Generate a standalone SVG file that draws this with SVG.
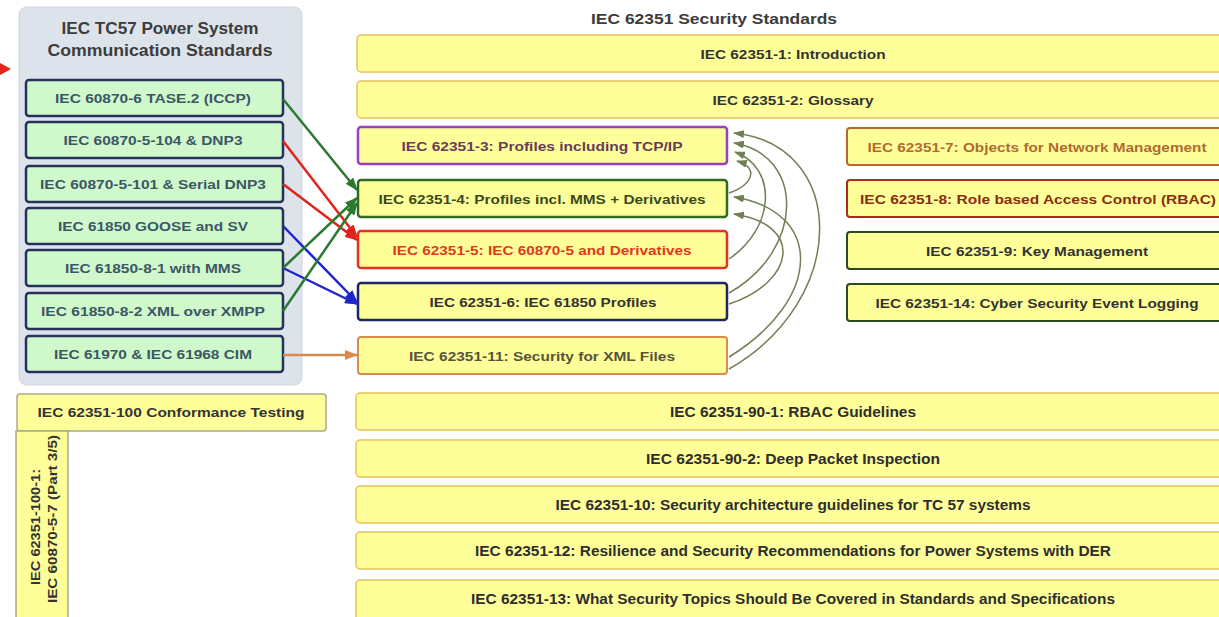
<svg xmlns="http://www.w3.org/2000/svg" width="1219" height="617" viewBox="0 0 1219 617">
  <style>
    text { font-family: "Liberation Sans", Arial, sans-serif; font-weight: bold; }
    .ttl { font-size: 16px; fill: #3c3c3c; text-anchor: middle; }
    .lb { fill: #cff8cb; stroke: #26325c; stroke-width: 2.5; }
    .lt { font-size: 13px; fill: #3d5666; text-anchor: middle; }
    .yb { fill: #ffff99; stroke: #e6c25a; stroke-width: 1.5; }
    .yt { font-size: 13px; fill: #333333; text-anchor: middle; }
    .bt { font-size: 14px; fill: #2e2e2e; text-anchor: middle; }
    .conn { fill: none; stroke-width: 2.5; }
    .curve { fill: none; stroke: #717f55; stroke-width: 1.5; }
  </style>
  <defs>
    <marker id="ah-green" markerUnits="userSpaceOnUse" markerWidth="13" markerHeight="10" refX="12" refY="5" orient="auto"><path d="M0,0 L13,5 L0,10 z" fill="#2a7a2e"/></marker>
    <marker id="ah-red" markerUnits="userSpaceOnUse" markerWidth="13" markerHeight="10" refX="12" refY="5" orient="auto"><path d="M0,0 L13,5 L0,10 z" fill="#e3231b"/></marker>
    <marker id="ah-blue" markerUnits="userSpaceOnUse" markerWidth="13" markerHeight="10" refX="12" refY="5" orient="auto"><path d="M0,0 L13,5 L0,10 z" fill="#1f25cc"/></marker>
    <marker id="ah-orange" markerUnits="userSpaceOnUse" markerWidth="13" markerHeight="10" refX="12" refY="5" orient="auto"><path d="M0,0 L13,5 L0,10 z" fill="#d98b4c"/></marker>
    <marker id="ah-olive" markerUnits="userSpaceOnUse" markerWidth="11" markerHeight="8" refX="10" refY="4" orient="auto"><path d="M0,0 L11,4 L0,8 z" fill="#717f55"/></marker>
  </defs>

  <rect width="1219" height="617" fill="#ffffff"/>

  <!-- pointer at the left margin -->
  <polygon points="0,63 11,69 0,75" fill="#e3231b"/>

  <!-- TC57 communication standards panel -->
  <g id="tc57-panel">
    <rect x="19" y="7" width="283" height="378" rx="8" fill="#dde3eb" stroke="#d0d7e1" stroke-width="1"/>
    <text class="ttl" x="160" y="34" textLength="197" lengthAdjust="spacingAndGlyphs">IEC TC57 Power System</text>
    <text class="ttl" x="160" y="56" textLength="225" lengthAdjust="spacingAndGlyphs">Communication Standards</text>
  </g>
  <g id="tase2">
    <rect class="lb" x="26" y="80" width="257" height="36" rx="3"/>
    <text class="lt" x="153" y="103" textLength="196" lengthAdjust="spacingAndGlyphs">IEC 60870-6 TASE.2 (ICCP)</text>
  </g>
  <g id="iec104">
    <rect class="lb" x="26" y="122" width="257" height="36" rx="3"/>
    <text class="lt" x="153" y="145" textLength="179" lengthAdjust="spacingAndGlyphs">IEC 60870-5-104  &amp; DNP3</text>
  </g>
  <g id="iec101">
    <rect class="lb" x="26" y="166" width="257" height="36" rx="3"/>
    <text class="lt" x="153" y="189" textLength="226" lengthAdjust="spacingAndGlyphs">IEC 60870-5-101  &amp; Serial DNP3</text>
  </g>
  <g id="goose-sv">
    <rect class="lb" x="26" y="208" width="257" height="36" rx="3"/>
    <text class="lt" x="153" y="231" textLength="190" lengthAdjust="spacingAndGlyphs">IEC 61850 GOOSE and SV</text>
  </g>
  <g id="mms">
    <rect class="lb" x="26" y="250" width="257" height="36" rx="3"/>
    <text class="lt" x="153" y="273" textLength="176" lengthAdjust="spacingAndGlyphs">IEC 61850-8-1  with MMS</text>
  </g>
  <g id="xmpp">
    <rect class="lb" x="26" y="293" width="257" height="36" rx="3"/>
    <text class="lt" x="153" y="316" textLength="224" lengthAdjust="spacingAndGlyphs">IEC 61850-8-2  XML over XMPP</text>
  </g>
  <g id="cim">
    <rect class="lb" x="26" y="336" width="257" height="36" rx="3"/>
    <text class="lt" x="153" y="359" textLength="198" lengthAdjust="spacingAndGlyphs">IEC 61970  &amp; IEC 61968 CIM</text>
  </g>

  <!-- conformance testing -->
  <g id="part-100">
    <rect x="17" y="394" width="309" height="37" rx="3" fill="#ffff99" stroke="#aaa98a" stroke-width="1.5"/>
    <text class="yt" x="171" y="417" textLength="267" lengthAdjust="spacingAndGlyphs">IEC 62351-100  Conformance Testing</text>
  </g>
  <g id="part-100-1">
    <rect x="16" y="431" width="52" height="192" fill="#ffff99" stroke="#aaa98a" stroke-width="1.5"/>
    <text class="yt" transform="translate(40,527) rotate(-90)" x="0" y="0" textLength="116" lengthAdjust="spacingAndGlyphs">IEC 62351-100-1:</text>
    <text class="yt" transform="translate(57,519) rotate(-90)" x="0" y="0" textLength="168" lengthAdjust="spacingAndGlyphs">IEC 60870-5-7  (Part 3/5)</text>
  </g>

  <!-- IEC 62351 family -->
  <text class="ttl" x="714" y="24" font-size="15" textLength="246" lengthAdjust="spacingAndGlyphs" style="font-size:15px">IEC 62351 Security Standards</text>

  <g id="p1">
    <rect class="yb" x="357" y="35" width="872" height="37" rx="4"/>
    <text class="yt" x="793" y="59" textLength="185" lengthAdjust="spacingAndGlyphs">IEC 62351-1: Introduction</text>
  </g>
  <g id="p2">
    <rect class="yb" x="357" y="81" width="872" height="37" rx="4"/>
    <text class="yt" x="793" y="105" textLength="161" lengthAdjust="spacingAndGlyphs">IEC 62351-2: Glossary</text>
  </g>
  <g id="p3">
    <rect x="358" y="127" width="369" height="37" rx="3" fill="#ffff99" stroke="#9a3fc4" stroke-width="2.5"/>
    <text class="yt" x="542" y="151" fill="#6a3b58" style="fill:#6a3b58" textLength="281" lengthAdjust="spacingAndGlyphs">IEC 62351-3: Profiles including TCP/IP</text>
  </g>
  <g id="p4">
    <rect x="358" y="180" width="369" height="37" rx="3" fill="#ffff99" stroke="#2f6b22" stroke-width="2.5"/>
    <text class="yt" x="542" y="204" style="fill:#3a4a1c" textLength="327" lengthAdjust="spacingAndGlyphs">IEC 62351-4: Profiles incl. MMS + Derivatives</text>
  </g>
  <g id="p5">
    <rect x="358" y="231" width="369" height="37" rx="3" fill="#ffff99" stroke="#e3321f" stroke-width="2.5"/>
    <text class="yt" x="542" y="255" style="fill:#e2381c" textLength="299" lengthAdjust="spacingAndGlyphs">IEC 62351-5: IEC 60870-5 and Derivatives</text>
  </g>
  <g id="p6">
    <rect x="358" y="283" width="369" height="37" rx="3" fill="#ffff99" stroke="#1d2766" stroke-width="2.5"/>
    <text class="yt" x="543" y="307" textLength="227" lengthAdjust="spacingAndGlyphs">IEC 62351-6: IEC 61850 Profiles</text>
  </g>
  <g id="p11">
    <rect x="358" y="337" width="369" height="37" rx="3" fill="#ffff99" stroke="#d98b4c" stroke-width="2"/>
    <text class="yt" x="542" y="361" style="fill:#55553a" textLength="266" lengthAdjust="spacingAndGlyphs">IEC 62351-11: Security for XML Files</text>
  </g>

  <g id="p7">
    <rect x="847" y="128" width="380" height="37" rx="3" fill="#ffff99" stroke="#b8682c" stroke-width="2"/>
    <text class="yt" x="1037" y="152" style="fill:#b06a32" textLength="339" lengthAdjust="spacingAndGlyphs">IEC 62351-7: Objects for Network Management</text>
  </g>
  <g id="p8">
    <rect x="847" y="180" width="380" height="37" rx="3" fill="#ffff99" stroke="#a82c1c" stroke-width="2"/>
    <text class="yt" x="1038" y="204" style="fill:#8a2c12" textLength="356" lengthAdjust="spacingAndGlyphs">IEC 62351-8: Role based Access Control (RBAC)</text>
  </g>
  <g id="p9">
    <rect x="847" y="232" width="380" height="37" rx="3" fill="#ffff99" stroke="#2d4a1e" stroke-width="2"/>
    <text class="yt" x="1037" y="256" textLength="222" lengthAdjust="spacingAndGlyphs">IEC 62351-9: Key Management</text>
  </g>
  <g id="p14">
    <rect x="847" y="284" width="380" height="37" rx="3" fill="#ffff99" stroke="#2d4a1e" stroke-width="2"/>
    <text class="yt" x="1037" y="308" textLength="323" lengthAdjust="spacingAndGlyphs">IEC 62351-14: Cyber Security Event Logging</text>
  </g>

  <g id="p90-1">
    <rect class="yb" x="356" y="393" width="873" height="37" rx="4"/>
    <text class="bt" x="793" y="417" textLength="246" lengthAdjust="spacingAndGlyphs">IEC 62351-90-1:  RBAC Guidelines</text>
  </g>
  <g id="p90-2">
    <rect class="yb" x="356" y="440" width="873" height="37" rx="4"/>
    <text class="bt" x="793" y="464" textLength="294" lengthAdjust="spacingAndGlyphs">IEC 62351-90-2:  Deep Packet  Inspection</text>
  </g>
  <g id="p10">
    <rect class="yb" x="356" y="486" width="873" height="37" rx="4"/>
    <text class="bt" x="793" y="510" textLength="475" lengthAdjust="spacingAndGlyphs">IEC 62351-10:  Security architecture guidelines for TC 57 systems</text>
  </g>
  <g id="p12">
    <rect class="yb" x="356" y="532" width="873" height="37" rx="4"/>
    <text class="bt" x="793" y="556" textLength="636" lengthAdjust="spacingAndGlyphs">IEC 62351-12:  Resilience and Security Recommendations for Power Systems with DER</text>
  </g>
  <g id="p13">
    <rect class="yb" x="356" y="580" width="873" height="40" rx="4"/>
    <text class="bt" x="793" y="604" textLength="644" lengthAdjust="spacingAndGlyphs">IEC 62351-13:  What Security Topics Should Be Covered in Standards and Specifications</text>
  </g>

  <!-- connectors -->
  <g id="connectors">
    <line class="conn" x1="283" y1="99" x2="357" y2="190" stroke="#2a7a2e" marker-end="url(#ah-green)"/>
    <line class="conn" x1="283" y1="141" x2="357" y2="237" stroke="#e3231b" marker-end="url(#ah-red)"/>
    <line class="conn" x1="283" y1="184" x2="357" y2="240" stroke="#e3231b" marker-end="url(#ah-red)"/>
    <line class="conn" x1="283" y1="226" x2="357" y2="302" stroke="#1f25cc" marker-end="url(#ah-blue)"/>
    <line class="conn" x1="283" y1="268" x2="357" y2="304" stroke="#1f25cc" marker-end="url(#ah-blue)"/>
    <line class="conn" x1="283" y1="268" x2="357" y2="198" stroke="#2a7a2e" marker-end="url(#ah-green)"/>
    <line class="conn" x1="283" y1="311" x2="357" y2="203" stroke="#2a7a2e" marker-end="url(#ah-green)"/>
    <line class="conn" x1="283" y1="355" x2="357" y2="355" stroke="#d98b4c" stroke-width="2" marker-end="url(#ah-orange)"/>

    <path class="curve" d="M729,193 C752,185 760,168 737,161" marker-end="url(#ah-olive)"/>
    <path class="curve" d="M729,259 C775,228 778,168 735,152" marker-end="url(#ah-olive)"/>
    <path class="curve" d="M729,293 C805,250 805,155 734,143" marker-end="url(#ah-olive)"/>
    <path class="curve" d="M729,304 C795,282 805,225 734,214" marker-end="url(#ah-olive)"/>
    <path class="curve" d="M729,357 C822,300 825,212 734,197" marker-end="url(#ah-olive)"/>
    <path class="curve" d="M729,369 C850,300 848,145 734,133" marker-end="url(#ah-olive)"/>
  </g>
</svg>
